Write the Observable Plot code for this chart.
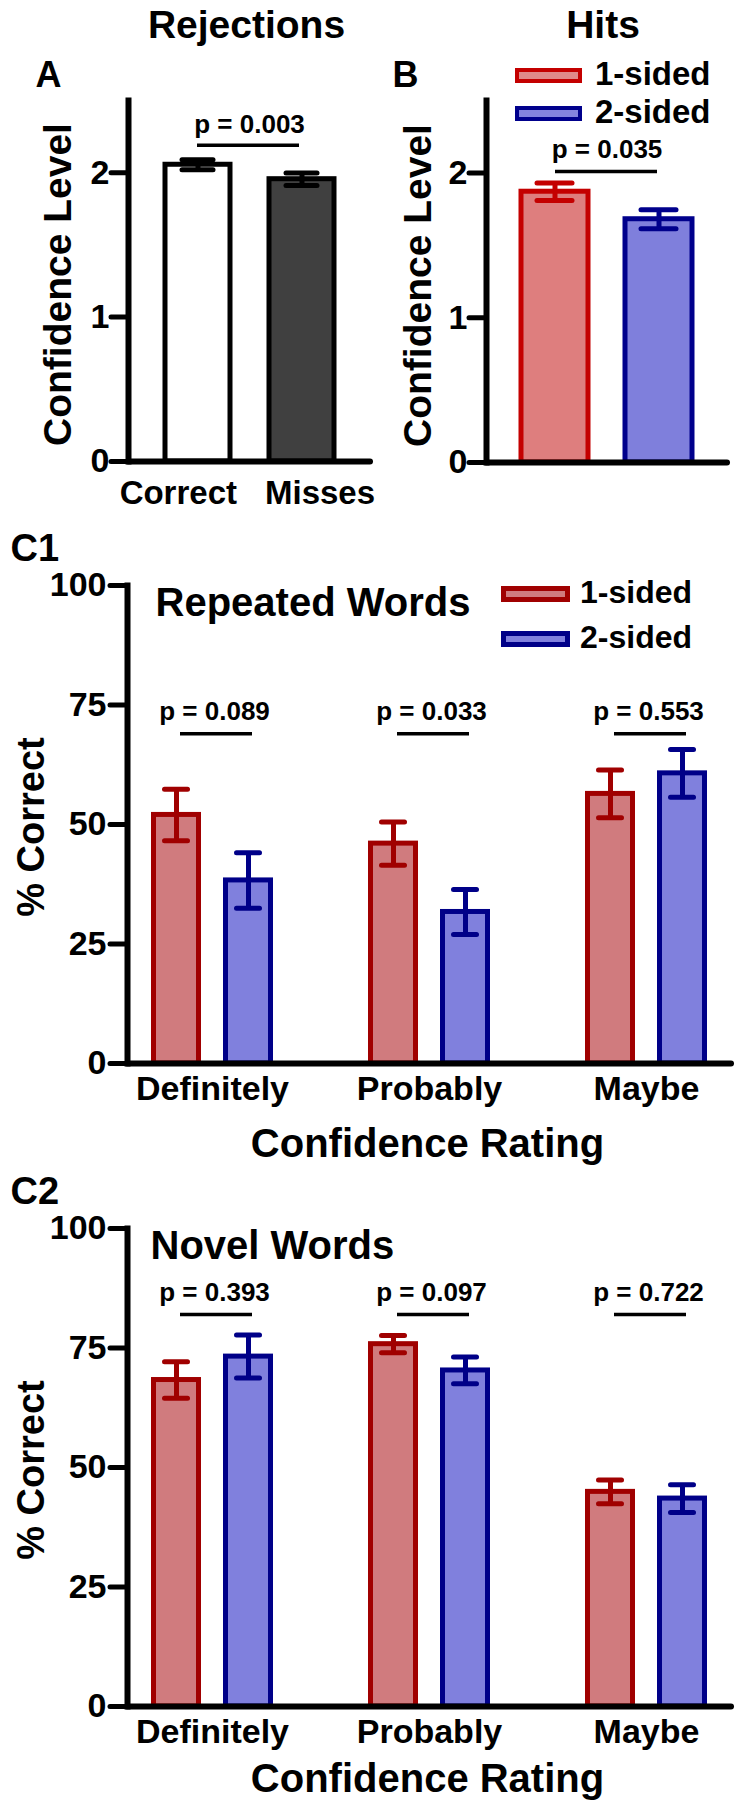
<!DOCTYPE html>
<html><head><meta charset="utf-8">
<script src="https://cdn.jsdelivr.net/npm/d3@7"></script>
<script src="https://cdn.jsdelivr.net/npm/@observablehq/plot@0.6"></script>
<style>
html,body{margin:0;padding:0;background:#fff;}
#page{position:relative;width:742px;height:1809px;overflow:hidden;font-family:"Liberation Sans",Arial,sans-serif;font-weight:bold;color:#000;}
.panel{position:absolute;}
.lg{position:absolute;white-space:nowrap;line-height:1;font-weight:bold;}
.sw{position:absolute;box-sizing:border-box;}
</style></head><body><div id="page"></div>
<script>
// ---------- data ----------
const rejCategories = ["Correct", "Misses"];
const rejMeans = [2.055, 1.955];
const rejSem = [0.035, 0.043];
const rejP = "p = 0.003";
const rejBracket = 2.19;

const hitSeries = ["1-sided", "2-sided"];
const hitMeans = [1.87, 1.68];
const hitSem = [0.06, 0.065];
const hitP = "p = 0.035";
const hitBracket = 2.01;

const confTicks = [0, 1, 2];
const pctTicks = [0, 25, 50, 75, 100];

const ratings = ["Definitely", "Probably", "Maybe"];
const repeatedOne = [52.0, 46.0, 56.4];
const repeatedOneSem = [5.4, 4.5, 5.0];
const repeatedTwo = [38.3, 31.7, 60.7];
const repeatedTwoSem = [5.8, 4.7, 5.0];
const repeatedP = ["p = 0.089", "p = 0.033", "p = 0.553"];
const repeatedBracket = 69;

const novelOne = [68.3, 75.8, 44.9];
const novelOneSem = [3.8, 1.8, 2.5];
const novelTwo = [73.2, 70.3, 43.5];
const novelTwoSem = [4.5, 2.8, 2.9];
const novelP = ["p = 0.393", "p = 0.097", "p = 0.722"];
const novelBracket = 82;

// ---------- helpers ----------
const FONT = '"Liberation Sans", Arial, Helvetica, sans-serif';
const page = document.getElementById("page");
function place(node, left, top, w, h) {
  const d = document.createElement("div");
  d.className = "panel";
  d.style.left = left + "px"; d.style.top = top + "px";
  d.style.width = w + "px"; d.style.height = h + "px";
  d.appendChild(node); page.appendChild(d);
}
function legendText(txt, left, baseline, size) {
  const s = document.createElement("div");
  s.className = "lg"; s.textContent = txt;
  s.style.fontSize = size + "px";
  s.style.left = left + "px";
  s.style.top = (baseline - 0.8465 * size) + "px";
  page.appendChild(s);
}
function swatch(left, top, w, h, bw, stroke, fill) {
  const s = document.createElement("div");
  s.className = "sw";
  Object.assign(s.style, {left: left + "px", top: top + "px", width: w + "px", height: h + "px",
    border: bw + "px solid " + stroke, background: fill});
  page.appendChild(s);
}
const bold = {fontWeight: "bold", fontFamily: FONT};

// ---------- Panel A ----------
const rej = rejCategories.map((c, i) => ({cat: c, mean: rejMeans[i], sem: rejSem[i]}));
const plotA = Plot.plot({
  width: 371, height: 505,
  marginTop: 100, marginBottom: 44, marginLeft: 128, marginRight: 1,
  style: {fontFamily: FONT, overflow: "visible", background: "transparent"},
  x: {domain: rejCategories, paddingInner: 0.375, paddingOuter: 0.341, axis: null},
  y: {domain: [0, 2.5], axis: null},
  color: {domain: rejCategories, range: ["#ffffff", "#404040"]},
  marks: [
    Plot.barY(rej, {x: "cat", y: "mean", fill: "cat", stroke: "#000", strokeWidth: 5}),
    Plot.ruleX(rej, {x: "cat", y1: d => d.mean - d.sem, y2: d => d.mean + d.sem, stroke: "#000", strokeWidth: 5}),
    Plot.tickY(rej, {x: "cat", y: d => d.mean + d.sem, stroke: "#000", strokeWidth: 5, strokeLinecap: "round", insetLeft: 17, insetRight: 17}),
    Plot.tickY(rej, {x: "cat", y: d => d.mean - d.sem, stroke: "#000", strokeWidth: 5, strokeLinecap: "round", insetLeft: 17, insetRight: 17}),
    Plot.ruleY([rejBracket], {strokeWidth: 3.5, insetLeft: 69, insetRight: 71}),
    Plot.text([rejP], {y: () => rejBracket, dy: -12.5, lineAnchor: "bottom", fontSize: 26, ...bold}),
    Plot.axisY({ticks: confTicks, tickFormat: d => d, tickSize: 17, tickPadding: 2, strokeWidth: 5, strokeLinecap: "round", fontSize: 34, label: null, ...bold}),
    Plot.frame({anchor: "left", strokeWidth: 6}),
    Plot.ruleY([0], {strokeWidth: 6, strokeLinecap: "round"}),
    Plot.axisX({ticks: ["Correct"], tickSize: 0, tickPadding: 19.5, textAnchor: "end", dx: 39, fontSize: 33, label: null, ...bold}),
    Plot.axisX({ticks: ["Misses"], tickSize: 0, tickPadding: 19.5, textAnchor: "start", dx: -37, fontSize: 33, label: null, ...bold}),
    Plot.text(["Confidence Level"], {frameAnchor: "left", textAnchor: "middle", rotate: -90, lineAnchor: "bottom", dx: -58, dy: 3.5, fontSize: 39, ...bold}),
    Plot.text(["Rejections"], {frameAnchor: "top", textAnchor: "middle", lineAnchor: "bottom", dx: -3, dy: -63, fontSize: 39, ...bold}),
    Plot.text(["A"], {frameAnchor: "top-left", textAnchor: "start", lineAnchor: "bottom", dx: -93, dy: -13.5, fontSize: 36, ...bold})
  ]
});
place(plotA, 0, 0, 371, 505);

// ---------- Panel B ----------
const hits = hitSeries.map((s, i) => ({series: s, mean: hitMeans[i], sem: hitSem[i]}));
const hitFill = ["#DE7E7E", "#7F7FDC"];
const hitStroke = ["#C40000", "#00008C"];
const hitMarks = [];
hits.forEach((d, i) => {
  const one = [d];
  hitMarks.push(
    Plot.barY(one, {x: "series", y: "mean", fill: hitFill[i], stroke: hitStroke[i], strokeWidth: 5}),
    Plot.ruleX(one, {x: "series", y1: e => e.mean - e.sem, y2: e => e.mean + e.sem, stroke: hitStroke[i], strokeWidth: 5}),
    Plot.tickY(one, {x: "series", y: e => e.mean + e.sem, stroke: hitStroke[i], strokeWidth: 5, strokeLinecap: "round", insetLeft: 16, insetRight: 16}),
    Plot.tickY(one, {x: "series", y: e => e.mean - e.sem, stroke: hitStroke[i], strokeWidth: 5, strokeLinecap: "round", insetLeft: 16, insetRight: 16})
  );
});
const plotB = Plot.plot({
  width: 371, height: 505,
  marginTop: 100, marginBottom: 43, marginLeft: 115, marginRight: 15,
  style: {fontFamily: FONT, overflow: "visible", background: "transparent"},
  x: {domain: hitSeries, paddingInner: 0.36, paddingOuter: 0.337, axis: null},
  y: {domain: [0, 2.5], axis: null},
  marks: [
    ...hitMarks,
    Plot.ruleY([hitBracket], {strokeWidth: 3.5, insetLeft: 69, insetRight: 70}),
    Plot.text([hitP], {y: () => hitBracket, dy: -13, lineAnchor: "bottom", fontSize: 26, ...bold}),
    Plot.axisY({ticks: confTicks, tickFormat: d => d, tickSize: 17, tickPadding: 2, strokeWidth: 5, strokeLinecap: "round", fontSize: 34, label: null, ...bold}),
    Plot.frame({anchor: "left", strokeWidth: 6}),
    Plot.ruleY([0], {strokeWidth: 6, strokeLinecap: "round"}),
    Plot.text(["Confidence Level"], {frameAnchor: "left", textAnchor: "middle", rotate: -90, lineAnchor: "bottom", dx: -56, dy: 4, fontSize: 39, ...bold}),
    Plot.text(["Hits"], {frameAnchor: "top", textAnchor: "middle", lineAnchor: "bottom", dx: -4, dy: -63, fontSize: 39, ...bold}),
    Plot.text(["B"], {frameAnchor: "top-left", textAnchor: "start", lineAnchor: "bottom", dx: -94, dy: -14, fontSize: 36, ...bold})
  ]
});
place(plotB, 371, 0, 371, 505);

// ---------- Panels C1 / C2 ----------
const cFill = ["#D07B7E", "#8080DD"];
const cStroke = ["#A00000", "#000088"];
function cPanel({height, marginBottom, one, oneSem, two, twoSem, pTexts, bracket, title, titleDx, letter, xLabelDy}) {
  const series = [
    ratings.map((r, i) => ({rating: r, value: one[i], sem: oneSem[i]})),
    ratings.map((r, i) => ({rating: r, value: two[i], sem: twoSem[i]}))
  ];
  const shift = [-36, 36];
  const marks = [];
  series.forEach((data, k) => {
    const common = {x: "rating", dx: shift[k]};
    marks.push(
      Plot.barY(data, {...common, y: "value", fill: cFill[k], stroke: cStroke[k], strokeWidth: 5, insetLeft: 62.5, insetRight: 62.5}),
      Plot.ruleX(data, {...common, y1: d => d.value - d.sem, y2: d => d.value + d.sem, stroke: cStroke[k], strokeWidth: 5}),
      Plot.tickY(data, {...common, y: d => d.value + d.sem, stroke: cStroke[k], strokeWidth: 5, strokeLinecap: "round", insetLeft: 73.5, insetRight: 73.5}),
      Plot.tickY(data, {...common, y: d => d.value - d.sem, stroke: cStroke[k], strokeWidth: 5, strokeLinecap: "round", insetLeft: 73.5, insetRight: 73.5})
    );
  });
  const pData = ratings.map((r, i) => ({rating: r, p: pTexts[i]}));
  return Plot.plot({
    width: 742, height,
    marginTop: 65, marginBottom, marginLeft: 127, marginRight: 11,
    style: {fontFamily: FONT, overflow: "visible", background: "transparent"},
    x: {domain: ratings, paddingInner: 0.2166, paddingOuter: 0, axis: null},
    y: {domain: [0, 100], axis: null},
    marks: [
      ...marks,
      Plot.tickY(pData, {x: "rating", y: () => bracket, dx: 4, strokeWidth: 3.5, insetLeft: 49, insetRight: 49}),
      Plot.text(pData, {x: "rating", y: () => bracket, text: "p", dx: 2, dy: -14, lineAnchor: "bottom", fontSize: 26, ...bold}),
      Plot.axisY({ticks: pctTicks, tickFormat: d => d, tickSize: 17, tickPadding: 4, strokeWidth: 5, strokeLinecap: "round", fontSize: 34, label: null, ...bold}),
      Plot.frame({anchor: "left", strokeWidth: 6}),
      Plot.ruleY([0], {strokeWidth: 6, strokeLinecap: "round"}),
      Plot.axisX({tickSize: 0, tickPadding: 12, fontSize: 34, label: null, ...bold}),
      Plot.text(["Confidence Rating"], {frameAnchor: "bottom", textAnchor: "middle", lineAnchor: "bottom", dx: -2, dy: xLabelDy, fontSize: 40, ...bold}),
      Plot.text(["% Correct"], {frameAnchor: "left", textAnchor: "middle", rotate: -90, lineAnchor: "bottom", dx: -84, dy: 2.5, fontSize: 38, ...bold}),
      Plot.text([title], {frameAnchor: "top-left", textAnchor: "start", lineAnchor: "bottom", dx: titleDx, dy: 30, fontSize: 40, ...bold}),
      Plot.text([letter], {frameAnchor: "top-left", textAnchor: "start", lineAnchor: "bottom", dx: -117, dy: -25, fontSize: 38, ...bold})
    ]
  });
}
const plotC1 = cPanel({height: 650, marginBottom: 107, one: repeatedOne, oneSem: repeatedOneSem, two: repeatedTwo, twoSem: repeatedTwoSem,
  pTexts: repeatedP, bracket: repeatedBracket, title: "Repeated Words", titleDx: 28, letter: "C1", xLabelDy: 93});
place(plotC1, 0, 520, 742, 650);
const plotC2 = cPanel({height: 646, marginBottom: 103, one: novelOne, oneSem: novelOneSem, two: novelTwo, twoSem: novelTwoSem,
  pTexts: novelP, bracket: novelBracket, title: "Novel Words", titleDx: 23, letter: "C2", xLabelDy: 85});
place(plotC2, 0, 1163, 742, 646);

// ---------- legends ----------
swatch(515, 68, 67, 15, 4, "#C40000", "#E08A8A");
swatch(515, 106, 67, 15, 4, "#00008C", "#8484DE");
legendText("1-sided", 595, 85, 33);
legendText("2-sided", 595, 123, 33);

swatch(501, 586, 69, 16, 5, "#A00000", "#D07B7E");
swatch(501, 631, 69, 16, 5, "#000088", "#8080DD");
legendText("1-sided", 580, 603.5, 32);
legendText("2-sided", 580, 648.5, 32);
</script></body></html>
